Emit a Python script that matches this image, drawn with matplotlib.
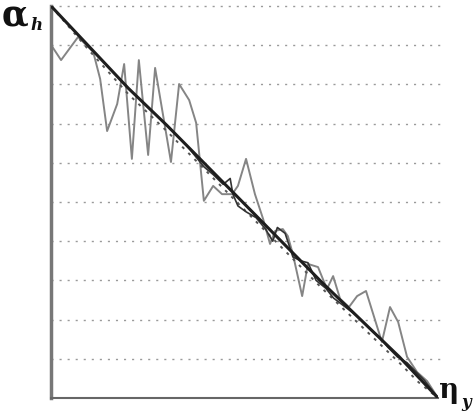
import matplotlib
matplotlib.use("Agg")
import matplotlib.pyplot as plt

# gray jagged series (eta_y in 0..100, alpha_h in 0..10)
gray_x = [0, 2.6, 7.0, 10.9, 12.7, 14.5, 17.1, 18.9, 20.9, 22.7, 25.1, 26.9,
          31.0, 33.1, 35.7, 37.5, 39.5, 41.9, 44.2, 46.8, 48.3, 50.4, 52.7,
          54.8, 56.6, 57.9, 59.9, 61.2, 62.5, 64.9, 66.4, 69.0, 71.3, 72.9,
          74.7, 77.0, 79.1, 81.4, 85.5, 87.6, 89.7, 92.0, 94.6, 97.2, 100]
gray_y = [9.01, 8.62, 9.21, 8.83, 8.14, 6.81, 7.50, 8.52, 6.10, 8.62, 6.20, 8.42,
          6.02, 8.01, 7.60, 7.02, 5.03, 5.41, 5.20, 5.20, 5.41, 6.10, 5.20,
          4.57, 3.93, 4.26, 4.31, 4.13, 3.67, 2.60, 3.42, 3.34, 2.78, 3.11,
          2.53, 2.32, 2.60, 2.73, 1.43, 2.32, 1.94, 1.05, 0.66, 0.43, 0]

# thick black trend
trend_x = [0, 10, 20, 30, 40, 50, 60, 70, 80, 90, 100]
trend_y = [10, 8.95, 7.9, 6.95, 5.95, 4.95, 3.95, 2.95, 2.0, 1.05, 0]

# thin dark series, close to the trend
dark_x = [35, 39.5, 41.9, 44.5, 46.3, 47.0, 48.3, 50.4, 53, 55.5, 57.3, 58.5,
          60.5, 62.5, 64.5, 66.4, 68.5, 71, 73, 75, 77, 79, 81, 83, 85, 87,
          89.5, 92, 94, 96.5, 100]
dark_y = [6.45, 5.9, 5.7, 5.45, 5.6, 5.2, 4.9, 4.75, 4.6, 4.3, 4.0, 4.35,
          4.2, 3.6, 3.5, 3.45, 3.0, 2.8, 2.55, 2.4, 2.25, 2.1, 1.9, 1.7, 1.55, 1.3,
          1.05, 0.9, 0.7, 0.45, 0]

# dotted series
dot_x = [0, 10, 15, 20, 30, 40, 50, 60, 70, 80, 90, 95, 100]
dot_y = [10, 8.85, 8.3, 7.75, 6.8, 5.8, 4.8, 3.8, 2.8, 1.85, 0.9, 0.4, 0]

grid_levels = [1, 2, 3, 4, 5, 6, 7, 8, 9, 10]

fig = plt.figure(figsize=(4.75, 4.14), dpi=100)
ax = fig.add_axes([51 / 475, 15 / 414, 387 / 475, 392 / 414])

for lv in grid_levels:
    ax.plot([0, 100.8], [lv, lv], color="#9a9a9a", lw=1.0,
            linestyle=(0, (1.5, 4.3)), clip_on=False, zorder=1)

ax.plot(gray_x, gray_y, color="#858585", lw=1.4, zorder=2)
ax.plot(dot_x, dot_y, color="#555555", lw=1.4, linestyle=(0, (1.5, 3)), zorder=3)
ax.plot(dark_x, dark_y, color="#333333", lw=1.2, zorder=4)
ax.plot(trend_x, trend_y, color="#1e1e1e", lw=2.2, zorder=5)

ax.set_xlim(0, 100)
ax.set_ylim(0, 10)
ax.set_xticks([])
ax.set_yticks([])
ax.spines["top"].set_visible(False)
ax.spines["right"].set_visible(False)
ax.spines["left"].set_color("#777777")
ax.spines["left"].set_linewidth(2.5)
ax.spines["bottom"].set_color("#666666")
ax.spines["bottom"].set_linewidth(1.5)

fig.text(2 / 475, 1 - 26 / 414, "α", fontsize=25, fontweight="bold",
         family="DejaVu Serif", color="#111111")
fig.text(30 / 475, 1 - 30 / 414, "h", fontsize=12, fontweight="bold",
         fontstyle="italic", family="DejaVu Serif", color="#111111")
fig.text(439 / 475, 1 - 398 / 414, "η", fontsize=20, fontweight="bold",
         family="DejaVu Serif", color="#111111")
fig.text(461 / 475, 1 - 407 / 414, "y", fontsize=12, fontweight="bold",
         fontstyle="italic", family="DejaVu Serif", color="#111111")

fig.savefig("out.png", dpi=100)
